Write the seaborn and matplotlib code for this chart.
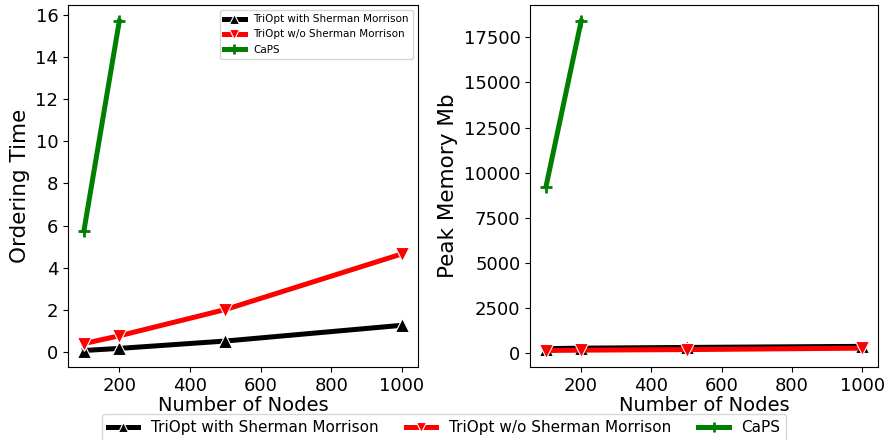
import matplotlib
matplotlib.use("Agg")
import matplotlib.pyplot as plt
import seaborn as sns

nodes = [100, 200, 500, 1000]
caps_nodes = [100, 200]

time_with_sm = [0.05, 0.15, 0.5, 1.25]
time_without_sm = [0.38, 0.75, 2.0, 4.65]
time_caps = [5.75, 15.72]

mem_with_sm = [250, 280, 320, 380]
mem_without_sm = [150, 170, 200, 280]
mem_caps = [9220, 18390]

labels = ["TriOpt with Sherman Morrison", "TriOpt w/o Sherman Morrison", "CaPS"]
colors = ["black", "red", "green"]
markers = ["^", "v", "+"]

fig = plt.figure(figsize=(8.88, 4.4), dpi=100)
ax1 = fig.add_axes([0.0766, 0.166, 0.394, 0.823])
ax2 = fig.add_axes([0.597, 0.166, 0.392, 0.823])

panels = [
    (ax1, [time_with_sm, time_without_sm, time_caps], "Ordering Time"),
    (ax2, [mem_with_sm, mem_without_sm, mem_caps], "Peak Memory Mb"),
]

for ax, series, ylabel in panels:
    for values, label, color, marker in zip(series, labels, colors, markers):
        xs = nodes if len(values) == len(nodes) else caps_nodes
        if marker == "+":
            style = dict(markeredgecolor=color, markeredgewidth=2, markersize=9)
        else:
            style = dict(markeredgecolor="white", markeredgewidth=0.8, markersize=10)
        sns.lineplot(x=xs, y=values, ax=ax, label=label, color=color,
                     marker=marker, linewidth=3.6, **style)
    ax.set_xlabel("Number of Nodes", fontsize=14, labelpad=1)
    ax.set_ylabel(ylabel, fontsize=15.5)
    ax.tick_params(labelsize=13)
    ax.set_xticks([200, 400, 600, 800, 1000])

ax1.set_yticks([0, 2, 4, 6, 8, 10, 12, 14, 16])
ax2.set_yticks([0, 2500, 5000, 7500, 10000, 12500, 15000, 17500])

handles, leg_labels = ax1.get_legend_handles_labels()
ax1.legend(handles, leg_labels, loc="upper right", fontsize=7.5, markerscale=0.75)
ax2.get_legend().remove()
fig.legend(handles, leg_labels, loc="lower center", ncol=3, fontsize=11,
           bbox_to_anchor=(0.5, -0.02), columnspacing=1.8, handlelength=2.0,
           markerscale=0.75)

fig.savefig("out.png", dpi=100)
